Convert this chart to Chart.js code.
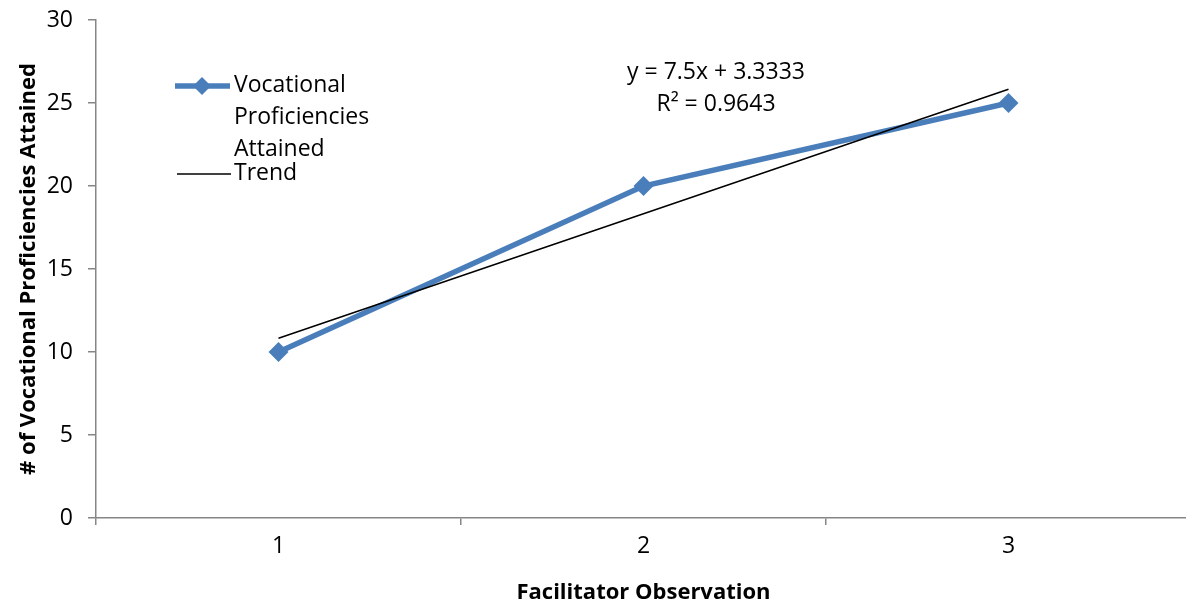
<!DOCTYPE html>
<html>
<head>
<meta charset="utf-8">
<script src="https://cdn.jsdelivr.net/npm/chart.js@4"></script>
<style>
  html, body { margin: 0; padding: 0; background: #fff; overflow: hidden; }
  #chart { display: block; }
</style>
</head>
<body>
<canvas id="chart" width="1201" height="606" style="width:1201px;height:606px"></canvas>
<script>
const categories = ['1', '2', '3'];
const proficiencies = [10, 20, 25];
// trend line (y = 7.5x + 3.3333)
const trendValues = [10.83, 18.33, 25.83];
const yTicks = [0, 5, 10, 15, 20, 25, 30];
const equationText = ['y = 7.5x + 3.3333', 'R² = 0.9643'];
const seriesLabel = 'Vocational Proficiencies Attained';
const trendLabel = 'Trend';

const FONT = '"Open Sans", Lato, sans-serif';
const BLUE = '#4A7EBB';
const AXIS = '#868686';

const overlay = {
  id: 'overlay',
  afterDraw(chart) {
    const ctx = chart.ctx;
    ctx.save();
    ctx.fillStyle = '#000';
    ctx.textBaseline = 'middle';

    // equation label
    ctx.font = `23px ${FONT}`;
    ctx.textAlign = 'center';
    ctx.fillText(equationText[0], 716, 72);
    ctx.fillText(equationText[1], 716, 104);

    // legend
    ctx.strokeStyle = BLUE;
    ctx.lineWidth = 5.5;
    ctx.beginPath();
    ctx.moveTo(175, 86);
    ctx.lineTo(230, 86);
    ctx.stroke();
    ctx.fillStyle = BLUE;
    ctx.beginPath();
    ctx.moveTo(202, 77); ctx.lineTo(211, 86); ctx.lineTo(202, 95); ctx.lineTo(193, 86);
    ctx.closePath();
    ctx.fill();

    ctx.strokeStyle = '#000';
    ctx.lineWidth = 1.5;
    ctx.beginPath();
    ctx.moveTo(177, 174);
    ctx.lineTo(231, 174);
    ctx.stroke();

    ctx.fillStyle = '#000';
    ctx.textAlign = 'left';
    ctx.font = `23px ${FONT}`;
    const words = seriesLabel.split(' ');
    words.forEach((w, i) => ctx.fillText(w, 234, 85 + i * 32));
    ctx.fillText(trendLabel, 234, 173);
    ctx.restore();
  }
};

new Chart(document.getElementById('chart'), {
  type: 'line',
  data: {
    labels: categories,
    datasets: [
      {
        label: trendLabel,
        data: trendValues,
        borderColor: '#000',
        borderWidth: 1.5,
        pointRadius: 0,
        tension: 0,
        order: 0,
      },
      {
        label: seriesLabel,
        data: proficiencies,
        borderColor: BLUE,
        backgroundColor: BLUE,
        borderWidth: 5.5,
        pointStyle: 'rectRot',
        pointRadius: 10,
        pointBorderWidth: 0,
        tension: 0,
        order: 1,
      },
    ],
  },
  options: {
    responsive: false,
    animation: false,
    layout: { padding: { top: 20, right: 1, left: 0, bottom: 0 } },
    plugins: { legend: { display: false }, tooltip: { enabled: false } },
    scales: {
      x: {
        offset: true,
        grid: { offset: true, drawOnChartArea: false, tickLength: 7, color: AXIS, lineWidth: 1.5 },
        border: { color: AXIS, width: 1.5 },
        ticks: { color: '#000', font: { family: FONT, size: 23 }, padding: 8 },
        title: {
          display: true, text: 'Facilitator Observation', color: '#000',
          font: { family: FONT, size: 22, weight: 'bold' }, padding: { bottom: 0 },
        },
        afterFit(scale) {
          scale.height = 88;
          scale.paddingLeft = 0;
          scale.paddingRight = 0;
        },
      },
      y: {
        min: 0, max: 30,
        afterBuildTicks(scale) { scale.ticks = yTicks.map(v => ({ value: v })); },
        grid: { drawOnChartArea: false, tickLength: 8, color: AXIS, lineWidth: 1.5 },
        border: { color: AXIS, width: 1.5 },
        ticks: { color: '#000', font: { family: FONT, size: 23 }, padding: 15 },
        title: {
          display: true, text: '# of Vocational Proficiencies Attained', color: '#000',
          font: { family: FONT, size: 22, weight: 'bold' }, padding: { top: 16 },
        },
        afterFit(scale) {
          scale.width = 96;
          scale.paddingTop = 0;
          scale.paddingBottom = 0;
        },
      },
    },
  },
  plugins: [overlay],
});
</script>
</body>
</html>
